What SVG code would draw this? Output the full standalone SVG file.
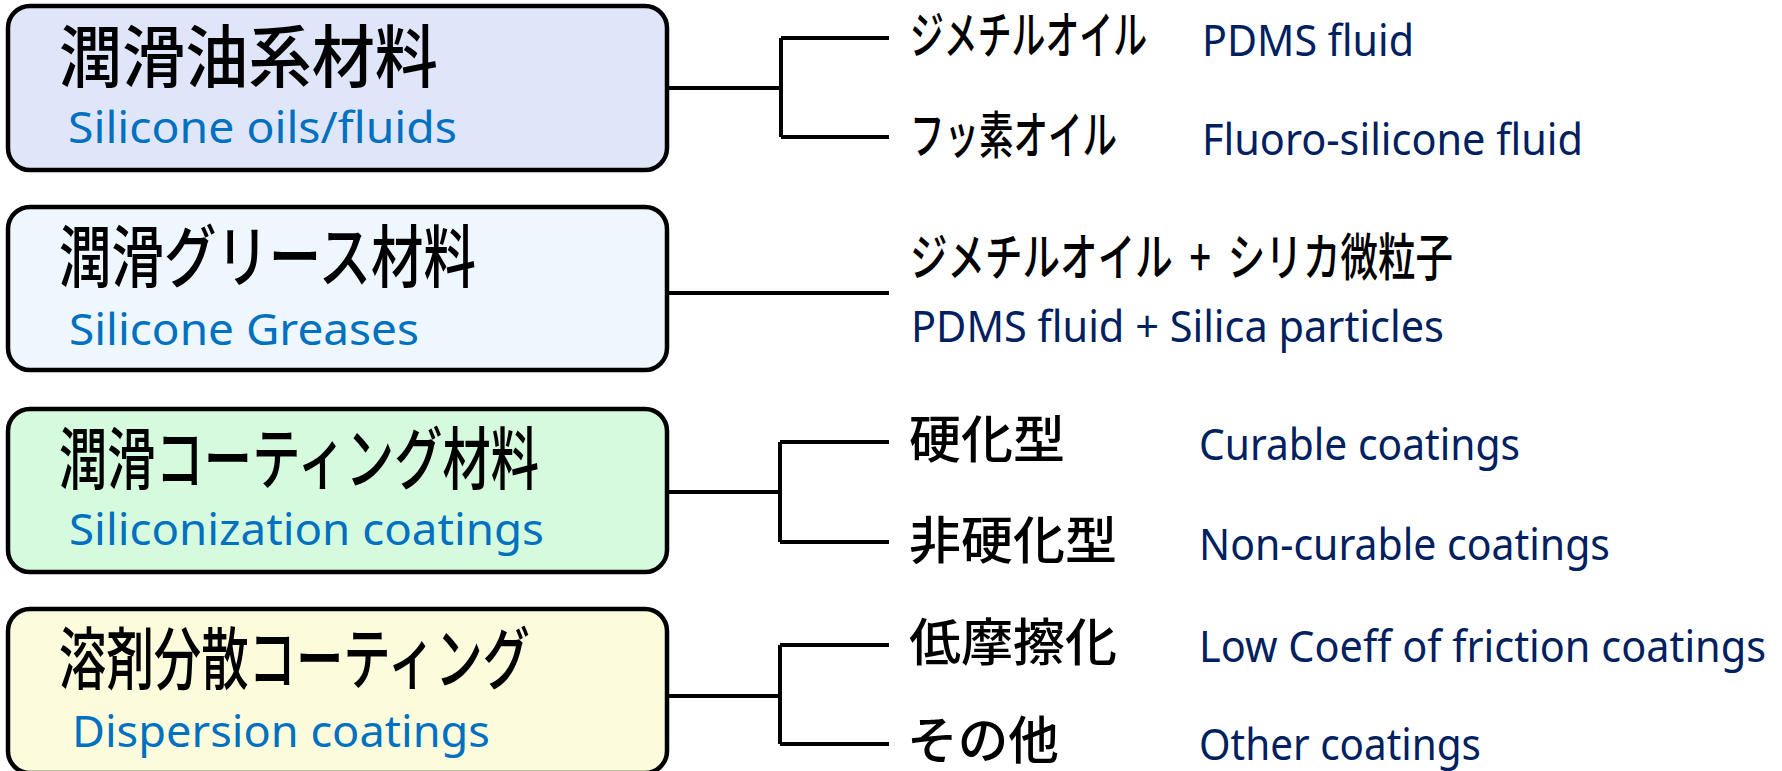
<svg xmlns="http://www.w3.org/2000/svg" width="1782" height="771" viewBox="0 0 1782 771">
<style>
.box{stroke:#000;stroke-width:4.5}
.jp{font-family:"Noto Sans CJK JP","Noto Sans CJK SC",sans-serif;font-weight:500;fill:#000}
.t{font-size:68px}
.s{font-family:"Noto Sans","Open Sans",sans-serif;font-size:43px;fill:#0070C0}
.r{font-size:51px}
.e{font-family:"Noto Sans","Open Sans",sans-serif;font-size:43px;fill:#002060}
.ln{fill:none;stroke:#000;stroke-width:4}
</style>
<rect width="1782" height="771" fill="#fff"/>
<g id="connectors">
<path class="ln" d="M667,88 H781 M781,38 V137 M781,38 H889 M781,137 H889"/>
<path class="ln" d="M667,293 H889"/>
<path class="ln" d="M667,492 H780 M780,442 V542 M780,442 H889 M780,542 H889"/>
<path class="ln" d="M667,696 H780 M780,645 V744 M780,645 H889 M780,744 H889"/>
</g>
<g id="node-oils">
<rect class="box" x="8" y="6" width="659" height="164" rx="22" fill="#E0E6FA"/>
<text class="jp t" x="59" y="82" textLength="379" lengthAdjust="spacingAndGlyphs">潤滑油系材料</text>
<text class="s" x="68" y="143" textLength="389" lengthAdjust="spacingAndGlyphs">Silicone oils/fluids</text>
</g>
<g id="node-greases">
<rect class="box" x="8" y="207" width="659" height="163" rx="22" fill="#EEF6FE"/>
<text class="jp t" x="59" y="282" textLength="417" lengthAdjust="spacingAndGlyphs">潤滑グリース材料</text>
<text class="s" x="69" y="345" textLength="350" lengthAdjust="spacingAndGlyphs">Silicone Greases</text>
</g>
<g id="node-siliconization">
<rect class="box" x="8" y="409" width="659" height="163" rx="22" fill="#D6FADD"/>
<text class="jp t" x="59" y="484" textLength="480" lengthAdjust="spacingAndGlyphs">潤滑コーティング材料</text>
<text class="s" x="69" y="545" textLength="475" lengthAdjust="spacingAndGlyphs">Siliconization coatings</text>
</g>
<g id="node-dispersion">
<rect class="box" x="8" y="609" width="659" height="164" rx="22" fill="#FCFCDD"/>
<text class="jp t" x="59" y="684" textLength="471" lengthAdjust="spacingAndGlyphs">溶剤分散コーティング</text>
<text class="s" x="72" y="747" textLength="418" lengthAdjust="spacingAndGlyphs">Dispersion coatings</text>
</g>
<g id="leaf-pdms">
<text class="jp r" x="910" y="54" textLength="237" lengthAdjust="spacingAndGlyphs">ジメチルオイル</text>
<text class="e" x="1202" y="56" textLength="212" lengthAdjust="spacingAndGlyphs">PDMS fluid</text>
</g>
<g id="leaf-fluoro">
<text class="jp r" x="910" y="154" textLength="207" lengthAdjust="spacingAndGlyphs">フッ素オイル</text>
<text class="e" x="1202" y="155" textLength="381" lengthAdjust="spacingAndGlyphs">Fluoro-silicone fluid</text>
</g>
<g id="leaf-grease">
<text class="jp r" x="910" y="276" textLength="543" lengthAdjust="spacingAndGlyphs" xml:space="preserve">ジメチルオイル  +  シリカ微粒子</text>
<text class="e" x="911" y="342" textLength="533" lengthAdjust="spacingAndGlyphs">PDMS fluid + Silica particles</text>
</g>
<g id="leaf-curable">
<text class="jp r" x="909" y="458" textLength="156" lengthAdjust="spacingAndGlyphs">硬化型</text>
<text class="e" x="1199" y="460" textLength="321" lengthAdjust="spacingAndGlyphs">Curable coatings</text>
</g>
<g id="leaf-noncurable">
<text class="jp r" x="909" y="559" textLength="208" lengthAdjust="spacingAndGlyphs">非硬化型</text>
<text class="e" x="1199" y="560" textLength="411" lengthAdjust="spacingAndGlyphs">Non-curable coatings</text>
</g>
<g id="leaf-lowcof">
<text class="jp r" x="909" y="661" textLength="208" lengthAdjust="spacingAndGlyphs">低摩擦化</text>
<text class="e" x="1199" y="662" textLength="567" lengthAdjust="spacingAndGlyphs">Low Coeff of friction coatings</text>
</g>
<g id="leaf-other">
<text class="jp r" x="907" y="759" textLength="152" lengthAdjust="spacingAndGlyphs">その他</text>
<text class="e" x="1199" y="760" textLength="282" lengthAdjust="spacingAndGlyphs">Other coatings</text>
</g>
</svg>
